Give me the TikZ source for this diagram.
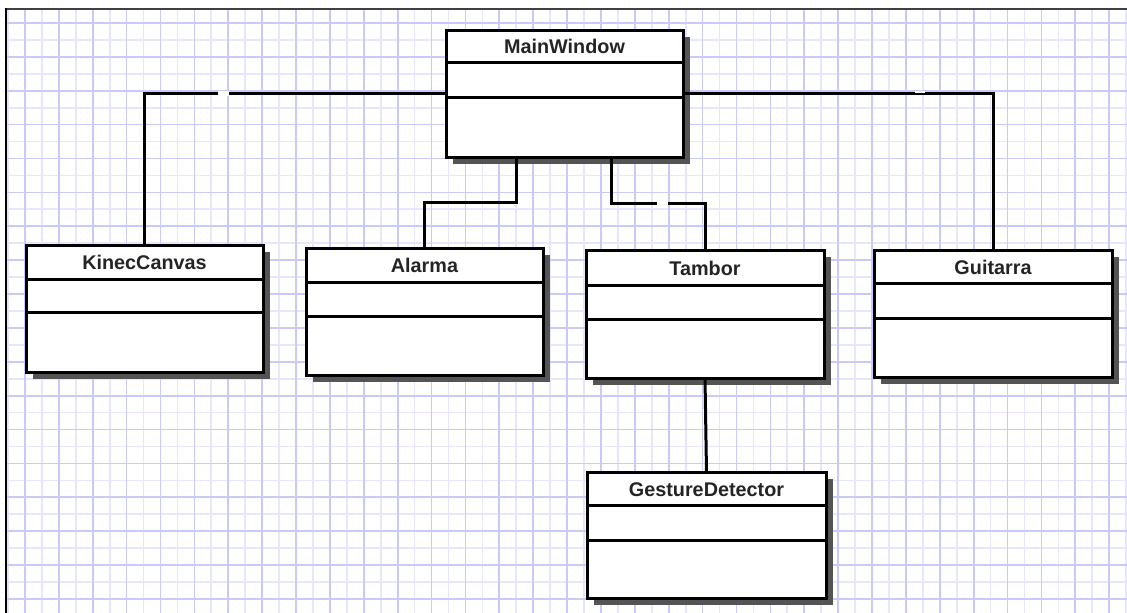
\documentclass[tikz,border=0pt]{standalone}
\usepackage{fontspec}
\setmainfont{Liberation Sans}
\usetikzlibrary{shadows,calc}

\definecolor{gridmajor}{RGB}{202,202,250}
\definecolor{gridminor}{RGB}{230,230,252}
\definecolor{shade}{RGB}{84,84,84}
\definecolor{labelc}{RGB}{36,36,36}

\tikzset{
  classbox/.style={draw=black, line width=3pt, fill=white, inner sep=0pt, outer sep=0pt,
    drop shadow={shadow xshift=7pt, shadow yshift=-7pt, fill=shade, opacity=1}},
  classname/.style={font=\bfseries\fontsize{19.8}{22}\selectfont, text=labelc, inner sep=0pt},
  divider/.style={line width=3pt},
  conn/.style={line width=3pt, draw=black},
  gap/.style={fill=white, draw=none}
}

% UML class: name, left, top, right, bottom, first divider, second divider, title
\newcommand\umlclass[8]{%
  \node[classbox, minimum width={#4-#2}, minimum height={#5-#3}] (#1) at ({(#2+#4)/2},{(#3+#5)/2}) {};
  \node[classname] (#1-title) at ({(#2+#4)/2},{(#3+#6)/2+0.5}) {#8};
  \draw[divider] (#1.west |- 0,#6) -- (#1.east |- 0,#6);
  \draw[divider] (#1.west |- 0,#7) -- (#1.east |- 0,#7);
}

\begin{document}
\begin{tikzpicture}[x=1pt,y=-1pt]
\useasboundingbox[fill=white] (0,0) rectangle (1127,613);

% squared paper
\begin{scope}
  \clip (6,9) rectangle (1127,613);
  \foreach \i in {0,...,66} {
    \draw[gridminor, line width=1.7pt] ({8.06+\i*16.94},0) -- ++(0,613);
  }
  \foreach \i in {0,...,37} {
    \draw[gridminor, line width=1.7pt] (0,{6.06+\i*16.94}) -- ++(1127,0);
  }
  \foreach \i in {0,...,32} {
    \draw[gridmajor, line width=1.7pt] ({25+\i*33.88},0) -- ++(0,613);
  }
  \foreach \i in {0,...,18} {
    \draw[gridmajor, line width=1.7pt] (0,{23+\i*33.88}) -- ++(1127,0);
  }
\end{scope}

% frame
\draw[black!75, line width=2pt] (5,9) -- (1127,9);
\draw[black, line width=2pt] (6,8) -- (6,613);

% classes
\umlclass{main}{446}{30}{683}{157}{62.5}{97}{MainWindow}
\umlclass{kinec}{26}{245}{263}{372}{279}{312.5}{KinecCanvas}
\umlclass{alarma}{306}{248}{543}{375}{282}{316}{Alarma}
\umlclass{tambor}{586}{250}{824}{378}{285}{319}{Tambor}
\umlclass{guitarra}{874}{250}{1112}{377}{283.5}{318}{Guitarra}
\umlclass{gesture}{587}{472}{826}{598}{505.5}{540}{GestureDetector}

% associations
\draw[conn] (main.west |- 0,93) -| (kinec.north);
\draw[conn] (main.east |- 0,93) -| (guitarra.north);
\draw[conn] ([xshift=-48pt]main.south) -- ++(0,45) -| (alarma.north);
\draw[conn] ([xshift=47pt]main.south) -- ++(0,46) -| (tambor.north);
\draw[conn] (tambor.south) -- (gesture.north);

% breaks left in the association lines
\fill[gap] (218,90.5) rectangle (229,96);
\fill[gap] (915,90.5) rectangle (925,93);
\fill[gap] (657,200.5) rectangle (668,204.5);
\end{tikzpicture}
\end{document}
